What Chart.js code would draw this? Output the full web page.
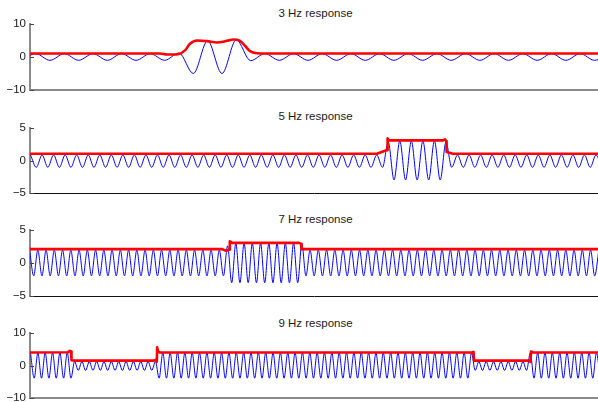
<!DOCTYPE html>
<html>
<head>
<meta charset="utf-8">
<script src="https://cdn.jsdelivr.net/npm/chart.js@4.4.1/dist/chart.umd.min.js"></script>
<style>
  html, body { margin: 0; padding: 0; background: #fff; }
  body { width: 598px; height: 402px; overflow: hidden; position: relative;
         font-family: "Liberation Sans", Arial, Helvetica, sans-serif; }
  .panel-title { position: absolute; left: 31px; width: 569px; text-align: center;
                 font-size: 11.5px; line-height: 14px; color: #1a1a1a; }
  canvas { position: absolute; left: 0; }
</style>
</head>
<body>
<script>
// Time axis in seconds, visible window 0 .. 5.68 s
const timeMax = 5.68;

// Blue traces: successive extrema (peak / trough),
// spaced every half period starting at t0
const t0_3Hz = -0.0866, half_3Hz = 0.1433;
const blue3Hz = [
  -1, 1, -1, 1, -1, 1, -1, 1, -1, 1,
  -1, 1.2, -5, 4.9, -5, 5.2, -1.1, 1, -1, 1,
  -1, 1, -1, 1, -1, 1, -1, 1, -1, 1,
  -1, 1, -1, 1, -1, 1, -1, 1, -1, 1,
  -1, 1
];

const t0_5Hz = 0.0053, half_5Hz = 0.0577;
const blue5Hz = [
  0.85, -1.05, 0.85, -1.05, 0.85, -1.05, 0.85, -1.05, 0.85, -1.05,
  0.85, -1.05, 0.85, -1.05, 0.85, -1.05, 0.85, -1.05, 0.85, -1.05,
  0.85, -1.05, 0.85, -1.05, 0.85, -1.05, 0.85, -1.05, 0.85, -1.05,
  0.85, -1.05, 0.85, -1.05, 0.85, -1.05, 0.85, -1.05, 0.85, -1.05,
  0.85, -1.05, 0.85, -1.05, 0.85, -1.05, 0.85, -1.05, 0.85, -1.05,
  0.85, -1.05, 0.85, -1.05, 0.85, -1.05, 0.85, -1.05, 0.85, -1.05,
  0.85, -1.05,
  2.8, -3, 3, -3, 3, -3, 3, -3, 3, -3, 2.8,
  -1.05, 0.85, -1.05, 0.85, -1.05, 0.85, -1.05, 0.85, -1.05, 0.85,
  -1.05, 0.85, -1.05, 0.85, -1.05, 0.85, -1.05, 0.85, -1.05, 0.85,
  -1.05, 0.85, -1.05, 0.85, -1.05, 0.85, -1.05
];

const t0_7Hz = -0.00425, half_7Hz = 0.04125;
const blue7Hz = [
  1.95, -1.95, 1.95, -1.95, 1.95, -1.95, 1.95, -1.95, 1.95, -1.95,
  1.95, -1.95, 1.95, -1.95, 1.95, -1.95, 1.95, -1.95, 1.95, -1.95,
  1.95, -1.95, 1.95, -1.95, 1.95, -1.95, 1.95, -1.95, 1.95, -1.95,
  1.95, -1.95, 1.95, -1.95, 1.95, -1.95, 1.95, -1.95, 1.95, -1.95,
  1.95, -1.95, 1.95, -1.95, 1.95, -1.95, 1.95, -1.95,
  2.6, -3, 3, -3, 3, -3, 3, -3, 3, -3, 3, -3, 3, -3, 3, -3, 3, -3, 2.9,
  -1.95, 1.95, -1.95, 1.95, -1.95, 1.95, -1.95, 1.95, -1.95, 1.95,
  -1.95, 1.95, -1.95, 1.95, -1.95, 1.95, -1.95, 1.95, -1.95, 1.95,
  -1.95, 1.95, -1.95, 1.95, -1.95, 1.95, -1.95, 1.95, -1.95, 1.95,
  -1.95, 1.95, -1.95, 1.95, -1.95, 1.95, -1.95, 1.95, -1.95, 1.95,
  -1.95, 1.95, -1.95, 1.95, -1.95, 1.95, -1.95, 1.95, -1.95, 1.95,
  -1.95, 1.95, -1.95, 1.95, -1.95, 1.95, -1.95, 1.95, -1.95, 1.95,
  -1.95, 1.95, -1.95, 1.95, -1.95, 1.95, -1.95, 1.95, -1.95, 1.95,
  -1.95, 1.95
];

const t0_9Hz = 0.005, half_9Hz = 0.03675;
const blue9Hz = [
  3.9, -3.9, 3.9, -3.9, 3.9, -3.9, 3.9, -3.9, 3.9, -3.9, 3.9, -3.9,
  1.2, -1.5, 1.2, -1.5, 1.2, -1.5, 1.2, -1.5, 1.2, -1.5, 1.2, -1.5,
  1.2, -1.5, 1.2, -1.5, 1.2, -1.5, 1.2, -1.5, 1.2, -1.5, 1.2,
  -3.9, 3.9, -3.9, 3.9, -3.9, 3.9, -3.9, 3.9, -3.9, 3.9,
  -3.9, 3.9, -3.9, 3.9, -3.9, 3.9, -3.9, 3.9, -3.9, 3.9,
  -3.9, 3.9, -3.9, 3.9, -3.9, 3.9, -3.9, 3.9, -3.9, 3.9,
  -3.9, 3.9, -3.9, 3.9, -3.9, 3.9, -3.9, 3.9, -3.9, 3.9,
  -3.9, 3.9, -3.9, 3.9, -3.9, 3.9, -3.9, 3.9, -3.9, 3.9,
  -3.9, 3.9, -3.9, 3.9, -3.9, 3.9, -3.9, 3.9, -3.9, 3.9,
  -3.9, 3.9, -3.9, 3.9, -3.9, 3.9, -3.9, 3.9, -3.9, 3.9,
  -3.9, 3.9, -3.9, 3.9, -3.9, 3.9, -3.9, 3.9, -3.9, 3.9,
  -3.9, 3.9, -3.9, 3.9, -3.9, 3.9,
  -1.5, 1.2, -1.5, 1.2, -1.5, 1.2, -1.5, 1.2, -1.5, 1.2, -1.5, 1.2, -1.5, 1.2, -1.5,
  3.9, -3.9, 3.9, -3.9, 3.9, -3.9, 3.9, -3.9, 3.9, -3.9,
  3.9, -3.9, 3.9, -3.9, 3.9, -3.9, 3.9, -3.9, 3.9, -3.9
];

// Red envelopes: [time s, value]
const env3Hz = [
  [0, 1.05], [1.30, 1.05], [1.37, 0.75], [1.48, 0.85], [1.55, 2], [1.60, 4],
  [1.67, 5], [1.77, 4.8], [1.87, 4.4], [1.97, 4.9], [2.03, 5.3], [2.10, 4.9],
  [2.15, 3.4], [2.20, 1.8], [2.27, 1.15], [2.35, 1.05], [5.68, 1.05]
];
const env5Hz = [
  [0, 1.05], [3.47, 1.05], [3.55, 1.5], [3.573, 1.6], [3.576, 3.4], [3.59, 3.1],
  [4.13, 3.1], [4.15, 3.25], [4.163, 3.0], [4.166, 1.3], [4.23, 1.05], [5.68, 1.05]
];
const env7Hz = [
  [0, 2.1], [1.92, 2.1], [1.96, 1.85], [1.994, 2.0], [1.998, 3.3], [2.02, 3.05],
  [2.69, 3.05], [2.71, 2.9], [2.715, 2.1], [5.68, 2.1]
];
const env9Hz = [
  [0, 4.0], [0.38, 4.1], [0.40, 4.5], [0.41, 4.3], [0.415, 1.6], [0.45, 1.5],
  [1.24, 1.5], [1.26, 1.8], [1.268, 1.2], [1.272, 5.6], [1.28, 4.3], [1.30, 4.0],
  [4.42, 4.0], [4.435, 4.2], [4.44, 1.5], [4.99, 1.5], [5.005, 1.1], [5.01, 4.3],
  [5.03, 4.0], [5.68, 4.0]
];

const titles = ['3 Hz response', '5 Hz response', '7 Hz response', '9 Hz response'];
const yRanges = [[-10, 10, 10], [-5, 5, 5], [-5, 5, 5], [-10, 10, 10]];

// layout of the four panels (top / bottom = pixel rows of the axis box)
const panels = [
  { blue: blue3Hz, t0: t0_3Hz, half: half_3Hz, env: env3Hz, top: 24, bottom: 90, titleY: 13, baseColor: '#8a8a8a', baseWidth: 2 },
  { blue: blue5Hz, t0: t0_5Hz, half: half_5Hz, env: env5Hz, top: 128, bottom: 193, titleY: 116, baseColor: '#111', baseWidth: 1 },
  { blue: blue7Hz, t0: t0_7Hz, half: half_7Hz, env: env7Hz, top: 230, bottom: 296, titleY: 219, baseColor: '#111', baseWidth: 1 },
  { blue: blue9Hz, t0: t0_9Hz, half: half_9Hz, env: env9Hz, top: 333, bottom: 398, titleY: 323, baseColor: '#8a8a8a', baseWidth: 2 }
];
// must be larger than half a tick label + tick padding, or Chart.js adds its own
const pad = 12;

// small inward tick marks on the y axis, MATLAB style
const inwardTicks = {
  id: 'inwardTicks',
  afterDraw(chart) {
    const sc = chart.scales.y, ctx = chart.ctx, left = chart.chartArea.left;
    ctx.save();
    ctx.strokeStyle = '#444';
    ctx.lineWidth = 1;
    sc.ticks.forEach(t => {
      const py = Math.round(sc.getPixelForValue(t.value)) + 0.5;
      ctx.beginPath();
      ctx.moveTo(left, py);
      ctx.lineTo(left + 4, py);
      ctx.stroke();
    });
    ctx.restore();
  }
};

const fmt = v => (v < 0 ? '\u2212' + Math.abs(v) : String(v));

panels.forEach((p, k) => {
  const title = document.createElement('div');
  title.className = 'panel-title';
  title.style.top = (p.titleY - 7) + 'px';
  title.textContent = titles[k];
  document.body.appendChild(title);

  const canvas = document.createElement('canvas');
  canvas.width = 598;
  canvas.height = (p.bottom - p.top) + 2 * pad;
  canvas.style.top = (p.top - pad) + 'px';
  document.body.appendChild(canvas);

  const bluePts = p.blue.map((v, i) => ({ x: p.t0 + i * p.half, y: v }));
  const redPts = p.env.map(([t, v]) => ({ x: t, y: v }));
  const [yMin, yMax, step] = yRanges[k];

  new Chart(canvas, {
    type: 'line',
    data: {
      datasets: [
        {
          data: redPts,
          borderColor: '#ff0000',
          borderWidth: 2.6,
          pointRadius: 0,
          tension: 0,
          cubicInterpolationMode: k === 0 ? 'monotone' : 'default',
          borderJoinStyle: 'round',
          order: 0
        },
        {
          data: bluePts,
          borderColor: '#0000ff',
          borderWidth: 1,
          pointRadius: 0,
          cubicInterpolationMode: 'monotone',
          order: 1
        }
      ]
    },
    options: {
      responsive: false,
      animation: false,
      events: [],
      layout: { padding: { top: pad, bottom: pad, left: 0, right: 0 } },
      plugins: { legend: { display: false }, tooltip: { enabled: false }, title: { display: false } },
      scales: {
        x: {
          type: 'linear',
          min: 0,
          max: timeMax,
          ticks: { display: false },
          grid: { display: false, drawTicks: false },
          border: { display: true, color: p.baseColor, width: p.baseWidth }
        },
        y: {
          min: yMin,
          max: yMax,
          afterFit: sc => { sc.width = 30; },
          ticks: {
            stepSize: step,
            padding: 4,
            color: '#1a1a1a',
            font: { family: '"Liberation Sans", Arial, Helvetica, sans-serif', size: 11.5 },
            callback: v => fmt(v)
          },
          grid: { display: false, drawTicks: false },
          border: { display: true, color: '#8a8a8a', width: 2 }
        }
      }
    },
    plugins: [inwardTicks]
  });
});
</script>
</body>
</html>
